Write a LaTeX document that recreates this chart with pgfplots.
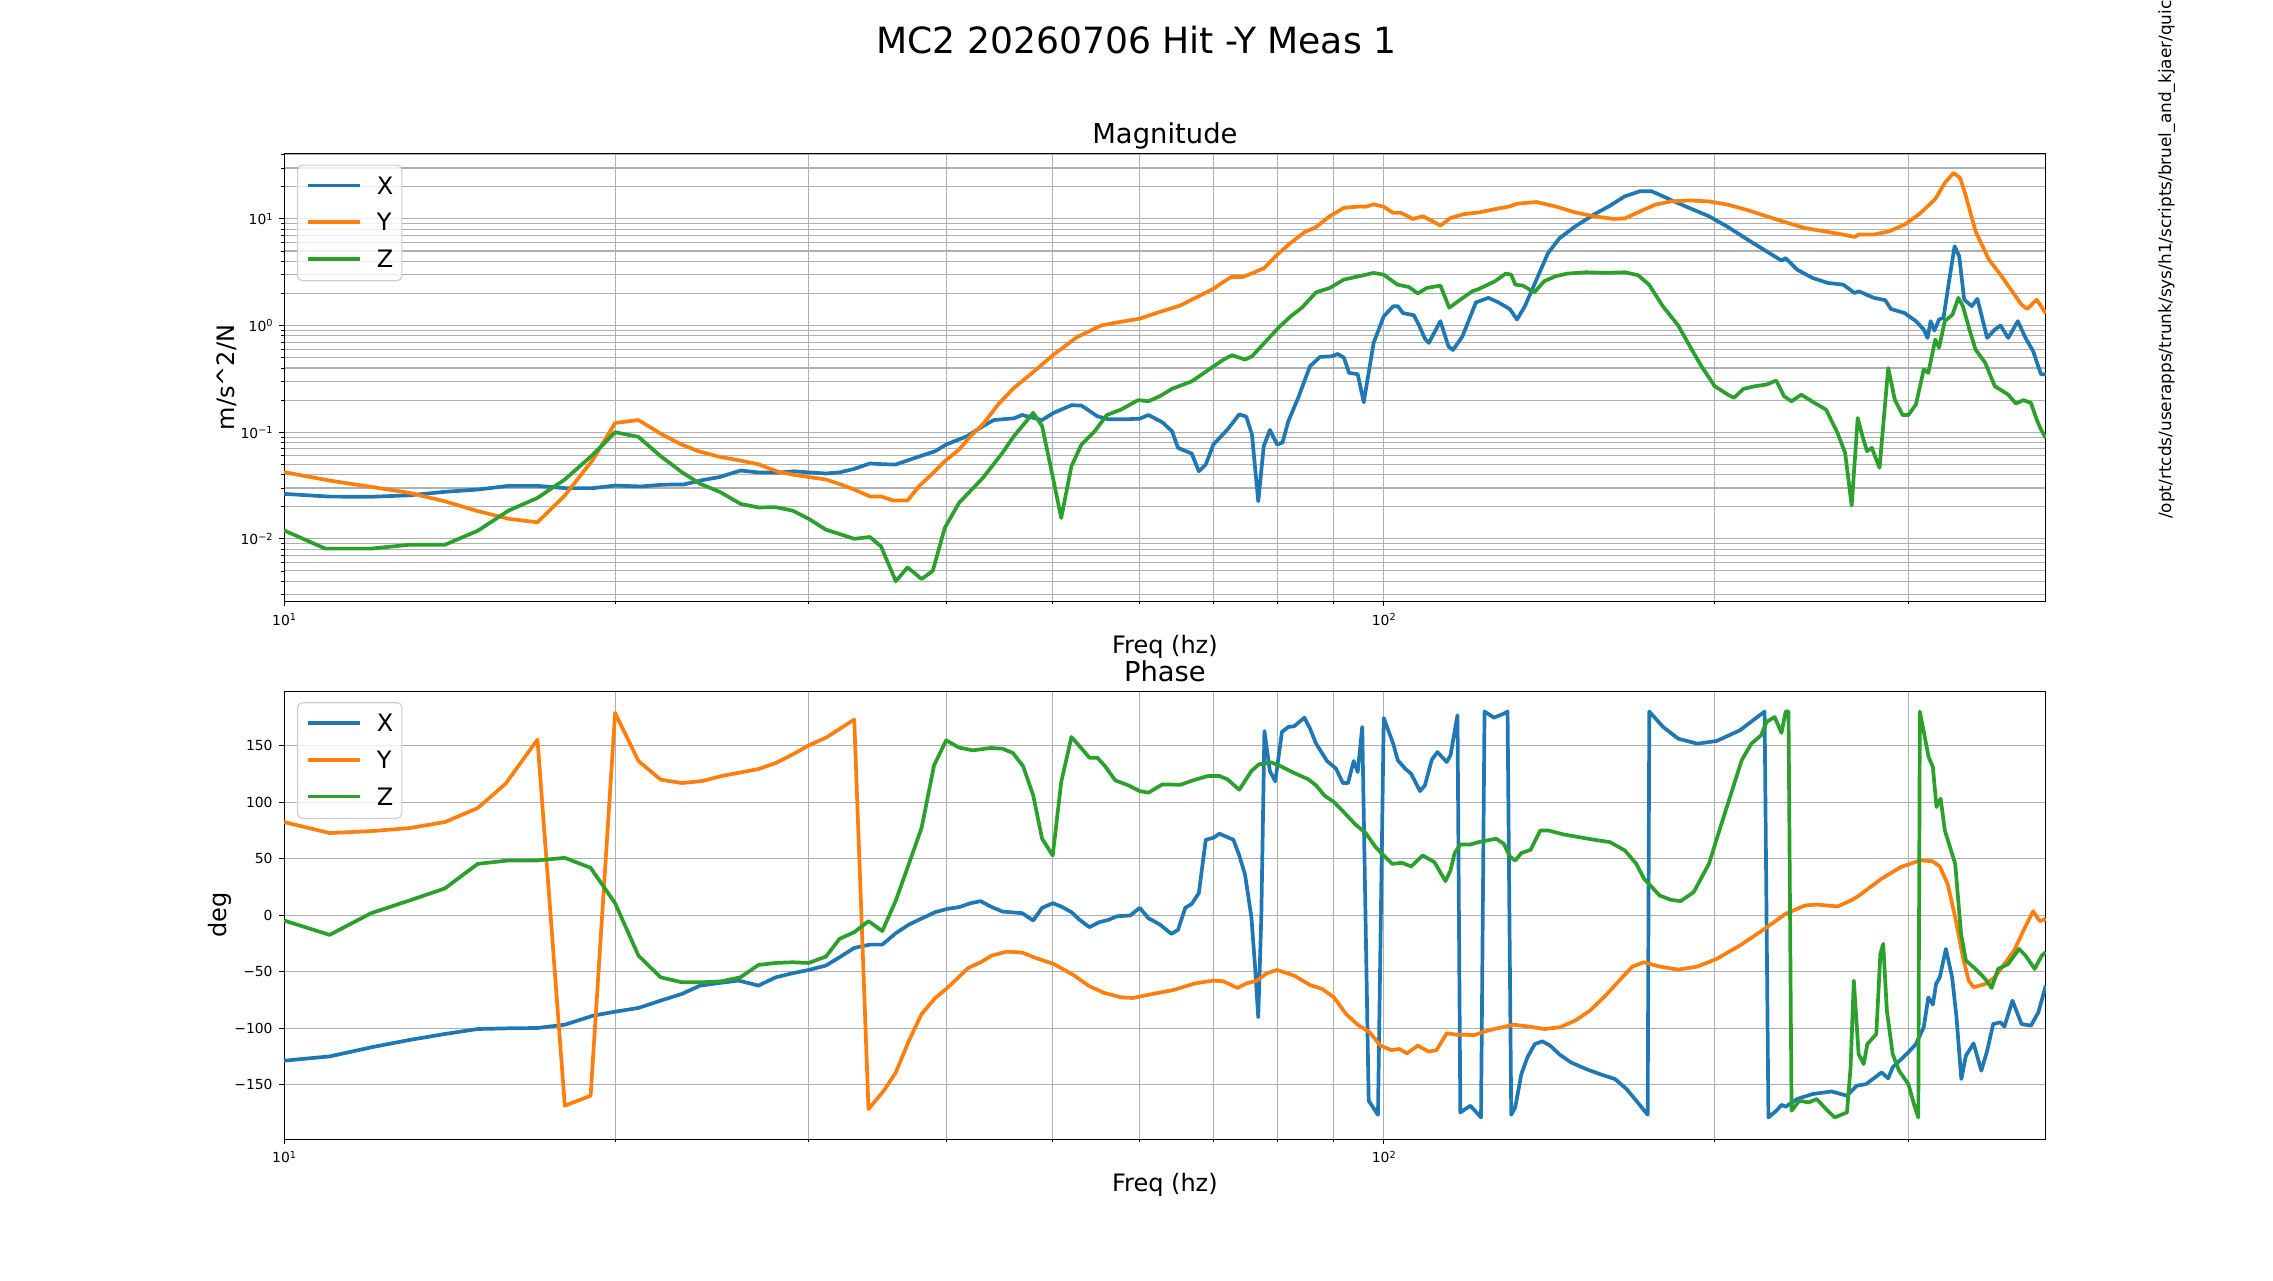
\documentclass[border=0pt]{standalone}
\usepackage{fontspec}
\setmainfont{DejaVu Sans}
\usepackage{pgfplots}
\pgfplotsset{compat=1.18}
\usepackage{pgfplotstable}
\definecolor{tabblue}{HTML}{1F77B4}
\definecolor{taborange}{HTML}{FF7F0E}
\definecolor{tabgreen}{HTML}{2CA02C}
\definecolor{gridgray}{HTML}{B0B0B0}
\definecolor{leggray}{HTML}{CCCCCC}
\newcommand\sz[1]{\fontsize{#1bp}{#1bp}\selectfont}
\newcommand\tsup[1]{\raisebox{4.7bp}{\sz{9.7}#1}}

\pgfplotstableread{
f m
10 0.0264
11.0 0.0249
12.0 0.0248
13.0 0.0256
14.0 0.0276
15.0 0.029
16.0 0.0314
17.0 0.0314
18.0 0.0299
19.1 0.0299
20 0.0316
21.1 0.031
22.1 0.0322
23.1 0.0324
24.0 0.0355
24.9 0.038
26.0 0.0437
27.0 0.042
28.1 0.0418
29.1 0.043
30 0.042
31.1 0.041
32.0 0.042
33.0 0.0453
34.1 0.0509
35.2 0.050
36.0 0.0498
37.5 0.0575
39.1 0.0664
40 0.0766
41.8 0.0918
43.2 0.114
44.2 0.13
46.1 0.135
46.9 0.145
48.9 0.13
50.1 0.152
52.0 0.179
53.1 0.178
54.9 0.141
56.2 0.132
58.1 0.132
60.0 0.134
61.1 0.145
62.9 0.124
64.2 0.102
65.0 0.0713
66.9 0.063
67.9 0.043
68.9 0.0498
70.0 0.0766
72.1 0.106
73.9 0.147
75.0 0.14
75.9 0.095
76.9 0.0225
77.8 0.074
78.8 0.105
80 0.0766
80.9 0.08
81.9 0.127
83.6 0.21
85.7 0.416
87.5 0.508
89.7 0.515
90.8 0.542
92.0 0.50
93.0 0.36
94.7 0.35
95.9 0.191
97.9 0.688
100 1.22
102.0 1.52
103.0 1.52
104.1 1.31
106.5 1.25
107.6 1.02
109.0 0.755
109.9 0.688
112.6 1.1
114.5 0.64
115.6 0.59
117.9 0.79
121.3 1.65
124.5 1.82
127.0 1.66
130.2 1.43
132.2 1.14
134.4 1.52
137.7 2.7
141.1 4.8
144.5 6.6
149.3 8.5
155.3 11.0
160.6 13.3
165.7 16.3
171.1 18.2
175.2 18.2
180.9 15.7
188.2 13.1
197.6 10.6
205.6 8.4
214.2 6.4
222.9 4.97
230.1 4.06
232.0 4.3
237.6 3.35
245.4 2.8
253.4 2.51
261.7 2.42
268.1 2.02
270.3 2.1
279.1 1.82
285.8 1.73
289.3 1.43
297.6 1.31
304.8 1.1
309.8 0.917
312.3 0.766
314.3 1.1
316.8 0.9
319.9 1.14
322.9 1.18
326.5 2.51
330.5 5.54
333.7 4.47
337.2 1.75
342.6 1.52
346.7 1.78
353.8 0.766
359.5 0.917
363.9 1.0
369.8 0.766
377.3 1.1
383.4 0.766
389.6 0.575
396 0.35
400 0.35
}\magX

\pgfplotstableread{
f m
10 0.0422
11.0 0.0352
12.0 0.0307
13.0 0.027
14.0 0.0225
15.0 0.0182
16.0 0.0154
17.0 0.0143
18.0 0.0255
19.1 0.0555
20 0.122
21.0 0.13
22.0 0.097
22.9 0.078
23.8 0.0664
24.9 0.0587
25.9 0.0546
27.0 0.050
28.1 0.0428
29.1 0.0398
30 0.038
31.1 0.036
32.1 0.0323
33.0 0.029
34.1 0.025
34.9 0.025
35.8 0.0229
36.9 0.0229
37.8 0.0312
38.8 0.0401
39.9 0.0535
41.1 0.0688
42.1 0.0918
43.3 0.122
44.6 0.182
46.1 0.26
48.1 0.373
50.1 0.535
52.6 0.778
55.3 1.0
57.2 1.07
60 1.16
62.1 1.31
65.3 1.54
67.4 1.82
70 2.21
71.5 2.57
72.7 2.86
74.5 2.86
76.3 3.16
77.9 3.47
80 4.63
82.3 5.96
84.7 7.5
86.8 8.4
89.3 10.6
92.0 12.7
95.1 13.1
96.3 13.0
97.9 13.7
100 13.0
102 11.4
103.7 11.4
106.3 10.0
108.5 10.6
110.8 9.5
112.6 8.66
115.0 10.2
118.3 11.1
122 11.5
127 12.5
130.2 13.1
132.2 13.9
137.7 14.4
143.3 13.1
149.3 11.5
155.3 10.6
161.7 10.0
165.7 10.1
171.1 11.8
176.6 13.6
182.4 14.6
189.8 14.9
197.6 14.6
205.6 13.6
214.2 12.1
222.9 10.6
232 9.3
241.6 8.2
251.4 7.66
261.7 7.13
268.1 6.78
270.3 7.13
279.1 7.13
288.2 7.66
297.6 8.85
307.3 11.2
317.4 15.4
323.8 21.8
329.8 27.0
334.4 24.2
338.4 16.3
345.3 7.66
355.1 4.16
363.9 3.0
372.7 2.1
380.2 1.57
384.8 1.43
392.6 1.75
400 1.3
}\magY

\pgfplotstableread{
f m
10 0.012
10.9 0.0081
12.0 0.0081
13.0 0.0088
14.0 0.0088
15.0 0.0119
16.0 0.0184
17.0 0.0242
18.0 0.036
19.1 0.0618
20 0.1
21.0 0.0904
22.0 0.0596
23.0 0.0422
23.9 0.0328
24.9 0.0276
26.0 0.0213
27.0 0.0197
28.0 0.0198
29.0 0.0184
30 0.0154
31.1 0.0122
32.0 0.0111
33.0 0.010
34.1 0.0104
34.9 0.0085
36.0 0.004
36.9 0.0054
38.0 0.0042
38.9 0.005
39.9 0.0127
41.1 0.0218
43.2 0.0373
45.0 0.064
46.1 0.0918
48.0 0.152
48.9 0.114
49.7 0.0516
50.9 0.0157
52.0 0.048
53.1 0.0766
54.6 0.102
56.0 0.145
57.7 0.163
59.8 0.2
61.1 0.195
62.6 0.218
64.2 0.255
66.9 0.30
69.2 0.381
71.5 0.48
72.8 0.527
74.8 0.48
75.9 0.515
77.9 0.688
80.3 0.965
82.3 1.22
84.3 1.48
86.8 2.05
89.3 2.25
92.0 2.7
95.5 2.94
97.9 3.12
100 3.0
102.9 2.42
105.4 2.3
107.4 2.0
109.4 2.25
112.6 2.37
114.7 1.47
117.4 1.75
120.4 2.1
122 2.2
126.2 2.6
129.1 3.07
130.6 3.0
131.7 2.42
133.8 2.37
137.1 2.05
139.9 2.6
143.3 2.9
146.8 3.07
152.8 3.16
159.1 3.12
165.7 3.16
170.3 2.97
174.3 2.42
179.4 1.52
185.3 1.0
190.6 0.596
194.5 0.416
200 0.27
205.6 0.225
208.2 0.21
212.4 0.255
217.6 0.27
222.9 0.28
227.5 0.305
231.2 0.218
234.9 0.195
239.7 0.225
246.5 0.188
252.5 0.163
258.6 0.0986
262.8 0.064
266.4 0.0205
269.8 0.136
272.5 0.0918
275.1 0.0664
277.9 0.0713
282.4 0.0463
287.6 0.40
291.6 0.202
296.4 0.145
300 0.145
304.8 0.182
309.8 0.387
312.8 0.36
317.4 0.74
319.9 0.62
323.8 1.1
329.1 1.27
333.1 1.82
336.3 1.52
341.2 0.89
345.3 0.596
352.4 0.447
359.5 0.27
363.9 0.25
369.8 0.225
375.7 0.186
381.8 0.2
387.8 0.188
392.6 0.131
396 0.106
400 0.0885
}\magZ

\pgfplotstableread{
f p
10 -128.6
11.0 -124.8
12.0 -116.8
13.0 -110.3
14.0 -105
15.0 -100.6
16.0 -100
17.0 -99.7
18.0 -96.8
19.1 -88.8
20 -85.3
21.0 -82
22.0 -75.5
23.0 -69.6
23.9 -62.2
24.9 -59.9
25.9 -57.8
27.0 -62.2
28.0 -54.9
29.0 -51.3
30 -48.4
31.1 -44.5
32.0 -37.2
33.0 -28.9
34.1 -26
35.0 -26
36.0 -15.9
37.0 -8.3
38.1 -2.4
39.1 2.7
40.1 5.6
41.1 7.1
42.1 10.6
43.0 12.4
43.9 7.7
45.0 3.2
46.9 1.8
48.0 -4.7
48.9 6.5
50.0 10.6
50.9 7.7
52.0 2.7
52.9 -4.1
54.0 -10.6
55.1 -6.2
56.2 -4.1
57.2 -0.9
58.8 -0.3
60.0 6.5
61.1 -2.7
62.6 -8.3
64.1 -16.5
65.0 -13
66.0 6.5
66.9 10
67.9 19.5
68.9 66.7
70.0 68.4
70.9 72
73.0 66.7
73.9 52.8
74.8 36
75.8 -1.8
76.4 -46
76.9 -90.3
77.4 -1.8
77.9 162.8
78.8 127.4
79.7 118.3
80.8 162
81.9 166.4
82.9 167
84.7 174.6
85.7 164.9
86.8 151.6
88.8 136.3
90.5 129.5
91.8 116.8
92.8 116.8
93.9 136.3
94.7 126.5
95.6 166.4
96.9 -164
98.8 -176.4
100 174.3
102 151.6
103 136.9
104.6 129.5
105.9 125
107.9 109.7
109 114.7
110.6 137.5
111.9 144.2
114.1 135.4
115.0 141.3
116.7 176.7
117.4 -174.3
119.9 -168.4
122.6 -178.8
123.5 180
126.0 174.6
128.6 178.2
129.6 180
130.6 -176.4
131.7 -169.9
133.4 -140.4
135.1 -125.7
137.2 -113.9
139.4 -111.5
141.7 -115.3
144.6 -123.3
148.0 -130.1
152.8 -136
157.8 -141
162.3 -144.8
166.3 -153.7
169.7 -164
173.8 -176.4
174.4 180
179.5 166.4
185.3 156
192.9 151.6
200.8 154
210.8 163.4
222.0 180
223.8 -178.8
227.5 -172.9
230.1 -167.6
232 -169.3
237.6 -162.5
245.4 -158.1
255.5 -155.8
263.8 -159.6
269.2 -150.7
274.6 -149.3
283.6 -139
287.6 -144.2
290.3 -134.5
300 -121.2
304.8 -113.9
309.8 -99.1
312.8 -72.6
315.8 -79.1
317.9 -60.8
320.4 -54.9
324.5 -29.8
328.8 -54.9
331.8 -90.3
335.2 -144.8
338.4 -124.2
343.9 -113.3
349.5 -137.5
353.8 -119.8
358.3 -96.2
363.9 -94.7
366.8 -98.5
373.1 -75.5
380.2 -96.2
387.8 -97.6
393.9 -85.8
400 -62.2
}\phX

\pgfplotstableread{
f p
10 82.3
11.0 72.6
12.0 74.3
13.0 77
14.0 82.3
15.0 94.7
15.9 116.2
17.0 155.2
18.0 -168.4
19.0 -159.6
20 178.8
21.0 136.3
22.0 119.8
23.0 116.8
24.0 118.6
25.0 123
27.0 129.2
28.0 134.5
29.1 142.8
30 150.1
31.1 156.9
33.0 172.9
34.0 -171.4
35.1 -155.2
36.0 -139
37.0 -111
38.0 -87.3
39.1 -73.2
40.1 -64.3
41.9 -46.6
43.0 -41.6
44.0 -35.7
45.4 -32.2
46.9 -33
48.3 -38
50.1 -43.1
52.2 -52.8
54.0 -62.8
55.7 -68.7
57.7 -72.6
59.1 -73.2
62.1 -69
64.4 -66.1
67.4 -60.2
70.0 -57.8
71.5 -58.4
73.6 -64.3
75.1 -60.2
76.7 -57.8
78.3 -51.3
80.0 -48.4
82.9 -53.4
85.7 -61.7
87.9 -65.2
90.1 -72.6
92.4 -87.3
94.7 -96.8
97.1 -103.5
99.3 -115.3
101.6 -119.2
103.3 -118.3
105.0 -122.1
107.4 -115.3
109.9 -120.6
111.7 -119.2
114.1 -104.4
116.5 -105.6
120.9 -105.9
123.4 -103
126.0 -100.6
131.3 -96.8
135.7 -98.5
140 -100.6
144.6 -99.1
149.3 -93.2
154 -84.4
159.1 -71.1
164.3 -56.3
168.3 -45.4
172.5 -41.6
178.2 -45.4
185.3 -48.1
192.9 -45.4
200.8 -38.6
210.8 -26.8
221.3 -13
232 1.2
241.6 8.6
247.6 9.4
258.6 7.7
266.0 13
270.3 17.1
283.6 32.2
295.2 42.5
307.3 48.4
315.3 47.8
320.4 43.1
325.7 27.7
330.9 -1.8
336.3 -37.2
340.4 -57.8
343.9 -63.7
352.4 -60.8
359.5 -54.9
366.8 -43.1
374.3 -31.3
381.8 -13.6
389.6 3.5
395 -5.3
400 -3.2
}\phY

\pgfplotstableread{
f p
10 -4.7
11.0 -17.4
12.0 1.8
13.0 13
14.0 23.6
15.0 45.4
16.0 48.4
17.0 48.4
18.0 50.7
19.0 41.9
20 10.6
21.0 -35.7
22.0 -54.9
23.0 -59.3
24.0 -59.3
25.0 -58.4
26.0 -54.9
27.0 -44
28.0 -42.2
29.0 -41.6
30 -42.2
31.1 -36.6
32.0 -20.9
33.0 -15
34.0 -5.3
35.0 -14
36.0 13
37.0 45.4
38.0 77.3
39.0 132.4
40.0 154.6
41.1 148.1
42.3 145.7
43.9 147.8
45.0 147.2
46.0 143.4
47.0 131.6
48.0 105.9
48.9 67.6
50.0 52.8
50.9 117.7
52.0 157.5
52.9 149.3
54.0 139.2
54.9 139.2
55.8 131.6
57.0 119.2
58.6 114.7
60.0 109.7
61.1 108.3
62.9 115.6
65.3 115.3
67.4 119.8
69.2 123
70.9 123
72.1 120.1
73.9 110.9
75.8 127.4
77.0 133.3
79.0 135.1
80.3 132.4
82.9 125.7
85.4 120.1
86.8 114.7
88.3 105.9
90.1 100
92.4 89.1
94.3 79.9
96.3 72.6
98.3 60.2
100 52.8
101.8 45.4
103.9 46.3
105.9 43.1
108.5 52.8
111.2 46.9
113.8 30.1
115 39.5
116 54.9
117.4 62.5
119.9 62.5
122 64.6
126.5 67.6
128.6 63.1
130.2 51.9
131.7 48.4
133.4 54.9
136.0 57.8
138.8 74.9
141.1 74.9
145.7 71.4
150.5 69
155.3 66.7
160.6 64.6
165.7 57.2
169.7 45.4
172.5 32.2
178.2 17.4
182.4 13.6
186.2 12.4
191.4 20.4
197.6 45.4
202.4 77.9
207.4 110.3
211.6 136.9
215.9 151.6
220.4 159
222.9 170.8
226.7 175.2
230 161.1
232 180
233.4 180
234.9 -172.9
238.7 -164
243.5 -165.5
247.6 -162.5
252.5 -171.4
257.1 -178.8
263.8 -174.3
265.8 -134.5
267.6 -57.8
270.3 -122.7
273.2 -131.6
275.3 -113.9
278.4 -108.6
280.5 -105
282.9 -34.2
284.6 -25.4
286.8 -84.4
290.3 -122.7
294.2 -137.5
300 -149.3
303.5 -167
306.3 -178.8
307.3 180
310.5 157.5
313 139.8
315.8 131
318.2 95.6
321 103
323.8 74.9
330.9 45.4
335 -16.5
338.4 -40.1
345.3 -47.5
352.4 -56.3
357.2 -64.3
362 -47.5
369.8 -43.1
378.3 -29.8
383.4 -35.7
390.9 -47.5
396.7 -35.7
400 -32.7
}\phZ

\pgfplotsset{
  grid=both,
  major grid style={draw=gridgray, line width=1.1bp},
  minor grid style={draw=gridgray, line width=1.1bp},
  tick align=outside, tick pos=left,
  major tick length=4.86bp, minor tick length=2.78bp,
  major tick style={black, line width=1.1bp},
  minor tick style={black, line width=0.83bp},
  axis line style={black, line width=1.1bp},
  tick label style={font=\sz{13.9}, text=black},
  xticklabel style={anchor=base, inner sep=0pt, yshift=-18.8bp},
  yticklabel style={anchor=base east, inner sep=0pt, xshift=-6.5bp},
  every axis plot/.append style={line width=3.7bp, line join=round, mark=none},
  legend cell align=left,
  legend style={at={(0,1)}, anchor=north west,
    xshift=13bp, yshift=-11bp, draw=leggray, line width=1.1bp,
    rounded corners=4.8bp, fill=white, fill opacity=0.8, text opacity=1,
    font=\sz{24}, inner xsep=8.5bp, inner ysep=11.5bp,
    row sep=17.8bp, column sep=15bp,
    nodes={inner sep=0pt, anchor=base west}},
  legend image code/.code={\draw[#1, rounded corners=0pt] (0bp,8.75bp) -- (52bp,8.75bp);},
}

\begin{document}
\begin{tikzpicture}[x=1bp,y=1bp]
\useasboundingbox (0,0) rectangle (2273,1280);

\begin{axis}[at={(284.1bp,678.4bp)}, anchor=south west,
  scale only axis, width=1761.6bp, height=448bp,
  xmode=log, xmin=10, xmax=400,
  xtick={10,100}, xticklabels={10\tsup{1},10\tsup{2}},
  minor xtick={20,30,40,50,60,70,80,90,200,300},
  ymode=log, ymin=0.00258, ymax=41,
  ytick={0.01,0.1,1,10},
  yticklabels={10\tsup{−2},10\tsup{−1},10\tsup{0},10\tsup{1}},
  yticklabel style={yshift=-5.9bp},
  minor ytick={0.003,0.004,0.005,0.006,0.007,0.008,0.009,
    0.02,0.03,0.04,0.05,0.06,0.07,0.08,0.09,
    0.2,0.3,0.4,0.5,0.6,0.7,0.8,0.9,
    2,3,4,5,6,7,8,9,20,30,40}]
\addplot[tabblue] table[x=f,y=m] {\magX};
\addlegendentry{X}
\addplot[taborange] table[x=f,y=m] {\magY};
\addlegendentry{Y}
\addplot[tabgreen] table[x=f,y=m] {\magZ};
\addlegendentry{Z}
\end{axis}

\begin{axis}[at={(284.1bp,140.8bp)}, anchor=south west,
  scale only axis, width=1761.6bp, height=448bp,
  xmode=log, xmin=10, xmax=400,
  xtick={10,100}, xticklabels={10\tsup{1},10\tsup{2}},
  minor xtick={20,30,40,50,60,70,80,90,200,300},
  ymin=-198, ymax=198,
  ytick={-150,-100,-50,0,50,100,150},
  yticklabels={−150,−100,−50,0,50,100,150},
  yticklabel style={yshift=-5bp}]
\addplot[tabblue] table[x=f,y=p] {\phX};
\addlegendentry{X}
\addplot[taborange] table[x=f,y=p] {\phY};
\addlegendentry{Y}
\addplot[tabgreen] table[x=f,y=p] {\phZ};
\addlegendentry{Z}
\end{axis}

\node[anchor=base, font=\sz{36.1}] at (1136.5,1226) {MC2 20260706 Hit -Y Meas 1};
\node[anchor=base, font=\sz{27.4}] at (1164.9,1136.4) {Magnitude};
\node[anchor=base, font=\sz{27.4}] at (1164.9,598.8) {Phase};
\node[anchor=base, font=\sz{24}] at (1164.9,626.4) {Freq (hz)};
\node[anchor=base, font=\sz{24}] at (1164.9,88.8) {Freq (hz)};
\node[anchor=base, rotate=90, font=\sz{24}] at (234.5,902.4) {m/s\textasciicircum 2/N};
\node[anchor=base, rotate=90, font=\sz{24}] at (226.4,364.8) {deg};
\node[anchor=base west, rotate=90, font=\sz{16.9}, inner sep=0pt] at (2171,761) {/opt/rtcds/userapps/trunk/sys/h1/scripts/bruel\_and\_kjaer/quick};
\end{tikzpicture}
\end{document}
